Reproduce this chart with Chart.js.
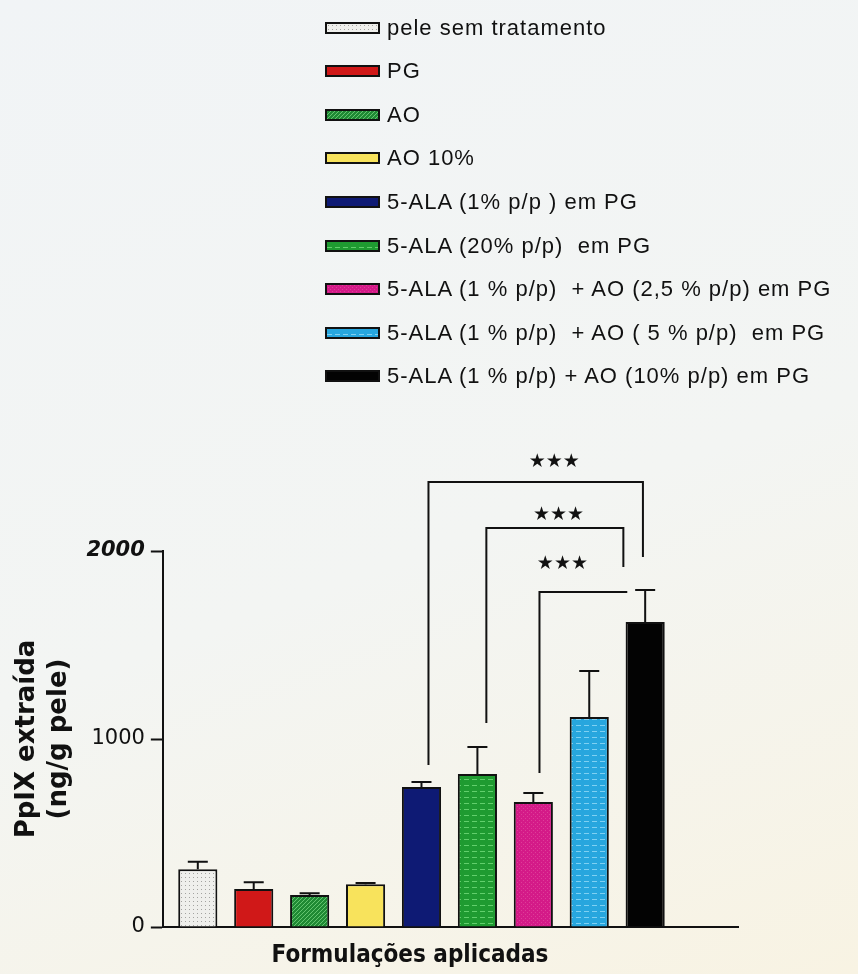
<!DOCTYPE html>
<html lang="pt">
<head>
<meta charset="utf-8">
<title>PpIX extraída</title>
<script src="https://cdn.jsdelivr.net/npm/chart.js@4.4.1/dist/chart.umd.min.js"></script>
<style>
  html, body { margin: 0; padding: 0; }
  body {
    width: 858px; height: 974px; overflow: hidden; position: relative;
    background: linear-gradient(160deg, #f1f4f6 0%, #f3f5f3 55%, #f8f3e3 100%);
    font-family: "Liberation Sans", Arial, sans-serif; color: #111;
  }
  #chart { position: absolute; left: 0; top: 0; }
  #legend { position: absolute; left: 325px; top: 0; }
  .item { position: absolute; left: 0; height: 24px; display: flex; align-items: center; white-space: pre; }
  .sw { width: 51px; height: 8px; border: 2px solid #111; border-bottom-width: 2.5px; background-repeat: repeat; }
  .lbl { margin-left: 7px; font-size: 22px; letter-spacing: 1px; line-height: 24px; }
  #xtitle {
    position: absolute; left: 210px; width: 400px; top: 942px; text-align: center;
    font-family: "DejaVu Sans Condensed", "DejaVu Sans", sans-serif; font-stretch: condensed;
    font-weight: bold; font-size: 24px; line-height: 24px;
  }
</style>
</head>
<body>
<canvas id="chart" width="858" height="974"></canvas>
<div id="legend"></div>
<div id="xtitle">Formulações aplicadas</div>
<script>
// Formulations applied to the skin samples (one bar each)
const formulations = [
  'pele sem tratamento',
  'PG',
  'AO',
  'AO 10%',
  '5-ALA (1% p/p ) em PG',
  '5-ALA (20% p/p)  em PG',
  '5-ALA (1 % p/p)  + AO (2,5 % p/p) em PG',
  '5-ALA (1 % p/p)  + AO ( 5 % p/p)  em PG',
  '5-ALA (1 % p/p) + AO (10% p/p) em PG'
];
// Mean PpIX extracted (ng/g pele) and upper error
const ppixMean = [307, 202, 170, 227, 745, 814, 665, 1117, 1622];
const ppixErr  = [40, 36, 9, 7, 26, 143, 48, 245, 171];
const yTicks = [0, 1000, 2000];

// Significance comparisons (bar positions are 1-based along x)
const cmpFrom   = [5, 6, 7];
const cmpTo     = [9, 9, 9];
const cmpLevel  = [2367, 2122, 1782];
const cmpLeftFoot  = [862, 1085, 819];
const cmpRightFoot = [1968, 1915, null];
const cmpLabelAt   = [2473, 2191, 1931];
const cmpLabel  = ['★★★', '★★★', '★★★'];

// Bracket leg placement relative to the bar centres (x units)
const legShiftLeft  = [0.125, 0.16, 0.11];
const legShiftRight = [-0.04, -0.39, -0.32];
const starShift     = [-1.625, -1.55, -1.48];

// ---- fills ----
function tile(w, h, draw) {
  const c = document.createElement('canvas');
  c.width = w; c.height = h;
  draw(c.getContext('2d'), w, h);
  return c;
}
function solid(col) { return tile(2, 2, (g, w, h) => { g.fillStyle = col; g.fillRect(0, 0, w, h); }); }
function lines(base, line) {
  return tile(8, 6, (g) => {
    g.fillStyle = base; g.fillRect(0, 0, 8, 6);
    g.fillStyle = line; g.fillRect(0, 5, 5, 1);
  });
}
const tiles = [
  tile(4, 4, (g) => { g.fillStyle = '#efefec'; g.fillRect(0, 0, 4, 4); g.fillStyle = '#a3a3a0'; g.fillRect(1, 1, 1, 1); }),
  solid('#d01818'),
  tile(4, 4, (g) => {
    g.fillStyle = '#1f8a34'; g.fillRect(0, 0, 4, 4);
    g.fillStyle = '#63c46f';
    g.fillRect(0, 3, 1, 1); g.fillRect(1, 2, 1, 1); g.fillRect(2, 1, 1, 1); g.fillRect(3, 0, 1, 1);
  }),
  solid('#f8e35c'),
  solid('#0e1a74'),
  lines('#1f9b31', '#62cf6c'),
  tile(4, 4, (g) => { g.fillStyle = '#d41a88'; g.fillRect(0, 0, 4, 4); g.fillStyle = '#de3d98'; g.fillRect(1, 2, 1, 1); g.fillRect(3, 0, 1, 1); }),
  lines('#27a6de', '#7fd0f2'),
  solid('#030303')
];

const canvas = document.getElementById('chart');
const ctx = canvas.getContext('2d');
const fills = tiles.map(t => ctx.createPattern(t, 'repeat'));

// ---- legend ----
const legend = document.getElementById('legend');
formulations.forEach((name, i) => {
  const row = document.createElement('div');
  row.className = 'item';
  row.style.top = (27.5 + i * 43.6 - 12) + 'px';
  const sw = document.createElement('span');
  sw.className = 'sw';
  sw.style.backgroundImage = 'url(' + tiles[i].toDataURL() + ')';
  const lbl = document.createElement('span');
  lbl.className = 'lbl';
  lbl.textContent = name;
  row.appendChild(sw); row.appendChild(lbl);
  legend.appendChild(row);
});

// ---- error bars and significance brackets ----
const annotations = {
  id: 'annotations',
  afterDatasetsDraw(chart) {
    const { ctx, scales: { x, y } } = chart;
    const bars = chart.getDatasetMeta(0).data;
    ctx.save();
    ctx.strokeStyle = '#111';
    ctx.lineWidth = 2;
    ctx.lineCap = 'butt';
    bars.forEach((bar, i) => {
      const top = y.getPixelForValue(ppixMean[i]);
      const tip = y.getPixelForValue(ppixMean[i] + ppixErr[i]);
      const half = 10;
      ctx.beginPath();
      ctx.moveTo(bar.x, top); ctx.lineTo(bar.x, tip);
      ctx.moveTo(bar.x - half, tip); ctx.lineTo(bar.x + half, tip);
      ctx.stroke();
    });

    ctx.font = '19px "DejaVu Sans", sans-serif';
    ctx.textAlign = 'center';
    ctx.textBaseline = 'middle';
    if ('letterSpacing' in ctx) ctx.letterSpacing = '0px';
    ctx.fillStyle = '#111';
    cmpFrom.forEach((from, k) => {
      const x0 = x.getPixelForValue(from + legShiftLeft[k]);
      const x1 = x.getPixelForValue(cmpTo[k] + legShiftRight[k]);
      const yl = y.getPixelForValue(cmpLevel[k]);
      ctx.beginPath();
      ctx.moveTo(x0, y.getPixelForValue(cmpLeftFoot[k]));
      ctx.lineTo(x0, yl);
      ctx.lineTo(x1, yl);
      if (cmpRightFoot[k] !== null) ctx.lineTo(x1, y.getPixelForValue(cmpRightFoot[k]));
      ctx.stroke();
      const sx = x.getPixelForValue(cmpTo[k] + starShift[k]);
      ctx.fillText(cmpLabel[k], sx, y.getPixelForValue(cmpLabelAt[k]));
    });
    ctx.restore();
  }
};

new Chart(ctx, {
  type: 'bar',
  data: {
    datasets: [{
      data: ppixMean.map((v, i) => ({ x: i + 1, y: v })),
      backgroundColor: fills,
      borderColor: '#111',
      borderWidth: 2,
      barPercentage: 0.7,
      categoryPercentage: 1
    }]
  },
  options: {
    responsive: false,
    animation: false,
    layout: { padding: { top: 551, left: 6, right: 120, bottom: 47 } },
    plugins: { legend: { display: false }, tooltip: { enabled: false } },
    scales: {
      x: {
        type: 'linear',
        min: 0.375,
        max: 10.66,
        offset: false,
        grid: { display: false, drawTicks: false },
        ticks: { display: false },
        border: { display: true, color: '#111', width: 2 }
      },
      y: {
        min: 0,
        max: 2000,
        afterBuildTicks: (scale) => { scale.ticks = yTicks.map(v => ({ value: v })); },
        ticks: {
          color: '#111',
          padding: 6,
          callback: (v) => String(v),
          font: (c) => {
            const top = c.tick && c.tick.value === 2000;
            return {
              family: '"DejaVu Sans", sans-serif',
              size: 21,
              style: top ? 'italic' : 'normal',
              weight: top ? 'bold' : 'normal'
            };
          }
        },
        grid: { drawOnChartArea: false, tickLength: 12, tickWidth: 2, tickColor: '#111' },
        border: { color: '#111', width: 2 },
        title: {
          display: true,
          text: ['PpIX extraída', '(ng/g pele)'],
          color: '#111',
          padding: { top: 6, bottom: 6 },
          font: { family: '"DejaVu Sans", sans-serif', weight: 'bold', size: 26, lineHeight: 1.2 }
        }
      }
    }
  },
  plugins: [annotations]
});
</script>
</body>
</html>
